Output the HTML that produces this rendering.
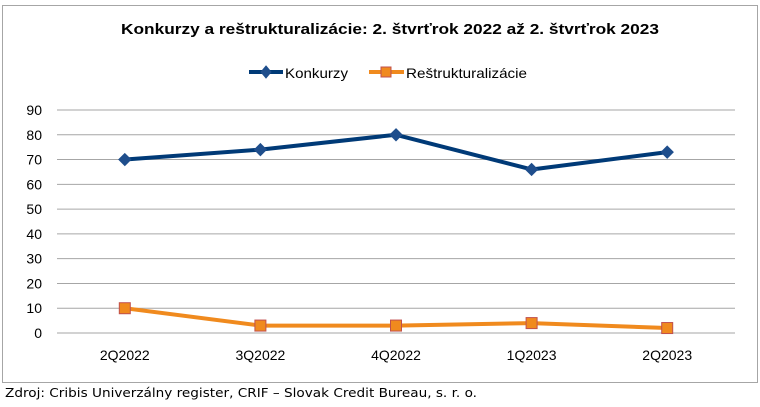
<!DOCTYPE html>
<html><head><meta charset="utf-8"><style>
body{margin:0;background:#fff;width:760px;height:402px;overflow:hidden;font-family:"Liberation Sans",sans-serif}
</style></head><body>
<svg width="760" height="402" xmlns="http://www.w3.org/2000/svg">
<rect x="2.5" y="5.5" width="755" height="377" fill="#fff" stroke="#a6a6a6"/>
<text x="121" y="34" font-size="15" font-weight="bold" fill="#000" textLength="538" lengthAdjust="spacingAndGlyphs">Konkurzy a reštrukturalizácie: 2. štvrťrok 2022 až 2. štvrťrok 2023</text>
<g>
<g>
<line x1="249" y1="72" x2="283" y2="72" stroke="#003a77" stroke-width="4"/>
<path d="M266 66 L271 72 L266 78 L261 72 Z" fill="#1f4e8c" stroke="#1f4e8c"/>
<text x="285" y="78" font-size="14" fill="#000" textLength="63" lengthAdjust="spacingAndGlyphs">Konkurzy</text></g>
<g>
<line x1="369" y1="72" x2="404" y2="72" stroke="#f08a1e" stroke-width="4"/>
<rect x="381" y="67" width="10" height="10" fill="#f08a1e" stroke="#c0504d"/>
<text x="406" y="78" font-size="14" fill="#000" textLength="121" lengthAdjust="spacingAndGlyphs">Reštrukturalizácie</text></g>
</g>
<g id="grid"></g>
<g id="yt"></g>
<g id="xt"></g>
<g id="series"></g>
<text x="5" y="397" font-size="12" fill="#000" font-family="DejaVu Sans, Liberation Sans, sans-serif" textLength="472" lengthAdjust="spacingAndGlyphs">Zdroj: Cribis Univerzálny register, CRIF – Slovak Credit Bureau, s. r. o.</text>
</svg>
<script>
const categories=["2Q2022","3Q2022","4Q2022","1Q2023","2Q2023"];
const konkurzy=[70,74,80,66,73];
const restrukturalizacie=[10,3,3,4,2];
const yTicks=[0,10,20,30,40,50,60,70,80,90];
const NS="http://www.w3.org/2000/svg";
const x0=57,x1=735,yTop=110,yBot=333,yMax=90;
const step=(x1-x0)/categories.length;
const X=i=>x0+step*(i+0.5);
const Y=v=>yBot-(v/yMax)*(yBot-yTop);
function mk(t,a,p){const e=document.createElementNS(NS,t);for(const k in a)e.setAttribute(k,a[k]);p.appendChild(e);return e;}
const grid=document.getElementById('grid'),yt=document.getElementById('yt'),xt=document.getElementById('xt'),se=document.getElementById('series');
yTicks.forEach(v=>{
 const l=mk('line',{x1:x0,x2:x1,y1:Y(v),y2:Y(v),stroke:'#a6a6a6','stroke-width':1},grid);
 
 
 const t=mk('text',{x:42,y:Y(v)+5,'text-anchor':'end','font-size':14,fill:'#000'},yt);
 t.textContent=v;
 
 
});
categories.forEach((c,i)=>{
 const t=mk('text',{x:X(i),y:360,'text-anchor':'middle','font-size':14,fill:'#000'},xt);
 t.textContent=c;
 
 
});
const p1=mk('polyline',{points:konkurzy.map((v,i)=>X(i)+','+Y(v)).join(' '),fill:'none',stroke:'#003a77','stroke-width':4,'stroke-linejoin':'round'},se);


konkurzy.forEach((v,i)=>{
 const x=X(i),y=Y(v);
 const m=mk('path',{d:`M${x} ${y-6}L${x+6} ${y}L${x} ${y+6}L${x-6} ${y}Z`,fill:'#1f4e8c',stroke:'#1f4e8c'},se);
 
 
});
const p2=mk('polyline',{points:restrukturalizacie.map((v,i)=>X(i)+','+Y(v)).join(' '),fill:'none',stroke:'#f08a1e','stroke-width':4,'stroke-linejoin':'round'},se);


restrukturalizacie.forEach((v,i)=>{
 const m=mk('rect',{x:X(i)-5.5,y:Y(v)-5.5,width:11,height:11,fill:'#f08a1e',stroke:'#c0504d'},se);
 
 
});
</script>
</body></html>
